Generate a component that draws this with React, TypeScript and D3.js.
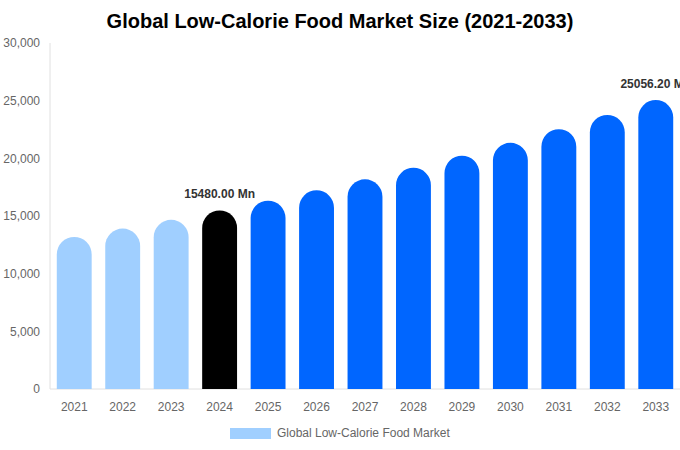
import React from "react";
import * as d3 from "d3";

const years = ["2021","2022","2023","2024","2025","2026","2027","2028","2029","2030","2031","2032","2033"];
const values = [13180, 13910, 14670, 15480, 16330, 17230, 18180, 19180, 20230, 21340, 22520, 23760, 25056.2];
const barColors = ["#a0cfff","#a0cfff","#a0cfff","#000000","#0066ff","#0066ff","#0066ff","#0066ff","#0066ff","#0066ff","#0066ff","#0066ff","#0066ff"];
const labelled = ["2024", "2033"];
const yTicks = [0, 5000, 10000, 15000, 20000, 25000, 30000];
const title = "Global Low-Calorie Food Market Size (2021-2033)";
const legendLabel = "Global Low-Calorie Food Market";

const W = 680, H = 450;
const m = { top: 43, right: 0, bottom: 61, left: 50 };

export default function App() {
  const x = d3.scaleBand<string>().domain(years).range([m.left, W - m.right]).paddingInner(0.28).paddingOuter(0.14);
  const y = d3.scaleLinear().domain([0, 30000]).range([H - m.bottom, m.top]);
  const bw = x.bandwidth();
  const r = bw / 2;
  const font = "'Liberation Sans', Arial, sans-serif";
  const barPath = (x0: number, top: number, bottom: number) => {
    const p = d3.path();
    p.moveTo(x0, bottom);
    p.lineTo(x0, top + r);
    p.arc(x0 + r, top + r, r, Math.PI, 0);
    p.lineTo(x0 + bw, bottom);
    p.closePath();
    return p.toString();
  };
  return (
    <svg width={W} height={H} style={{ position: "absolute", left: 0, top: 0, fontFamily: font }}>
      <rect width={W} height={H} fill="#fff" />
      <text x={W / 2} y={28} textAnchor="middle" fontSize={20} fontWeight="bold" fill="#000">{title}</text>
      <line x1={m.left} x2={m.left} y1={y(30000)} y2={y(0)} stroke="#e0e0e0" />
      <line x1={m.left} x2={W} y1={y(0)} y2={y(0)} stroke="#e0e0e0" />
      {yTicks.map(t => (
        <text key={t} x={40} y={y(t)} dy="0.35em" textAnchor="end" fontSize={12} fill="#666">{d3.format(",")(t)}</text>
      ))}
      {years.map((yr, i) => (
        <g key={yr}>
          <path d={barPath(x(yr)!, y(values[i]), y(0))} fill={barColors[i]} />
          <text x={x(yr)! + r} y={411} textAnchor="middle" fontSize={12} fill="#666">{yr}</text>
          {labelled.includes(yr) && (
            <text x={x(yr)! + r} y={y(values[i]) - 12} textAnchor="middle" fontSize={12} fontWeight="bold" fill="#333">
              {values[i].toFixed(2) + " Mn"}
            </text>
          )}
        </g>
      ))}
      <rect x={230} y={428} width={41} height={11} fill="#a0cfff" />
      <text x={277} y={437} fontSize={12} fill="#666">{legendLabel}</text>
    </svg>
  );
}
